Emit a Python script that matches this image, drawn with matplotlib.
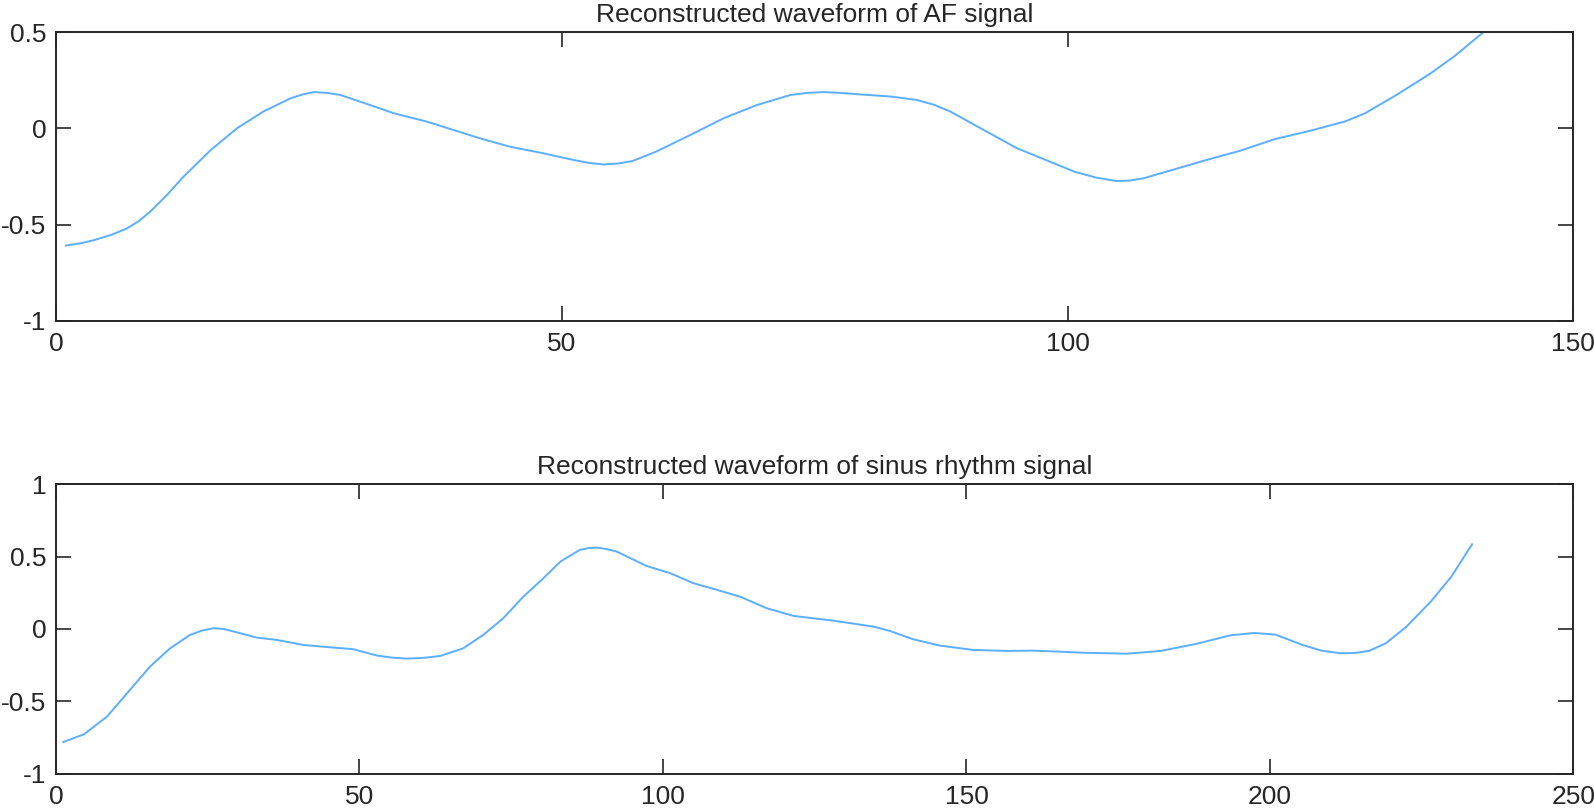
import matplotlib
matplotlib.use("Agg")
import matplotlib.pyplot as plt

# ---- data ----
af_x = [1, 2.4, 3.7, 5.4, 7, 8.2, 9.3, 11, 12.6, 15.3, 17.9, 20.5, 23.2, 24.4, 25.5,
        26.8, 28.1, 30.7, 33.4, 36.7, 39.3, 41.9, 44.9, 47.9, 51.2, 52.7, 54.1, 55.6,
        57, 59.3, 62.7, 66, 69.3, 72.6, 74.3, 75.9, 77.5, 79.2, 82.5, 85.1, 86.8,
        88.4, 91.4, 95, 97.3, 100.7, 102.8, 104.8, 106.1, 107.5, 110.9, 113.7,
        117.1, 120.5, 123.9, 127.4, 129.4, 132.5, 135.9, 138.3, 141]
af_y = [-0.609, -0.598, -0.582, -0.555, -0.521, -0.482, -0.434, -0.345, -0.252,
        -0.113, 0.0, 0.087, 0.156, 0.176, 0.188, 0.184, 0.173, 0.127, 0.078, 0.034,
        -0.009, -0.052, -0.096, -0.127, -0.165, -0.180, -0.188, -0.183, -0.170,
        -0.122, -0.035, 0.052, 0.121, 0.173, 0.184, 0.188, 0.184, 0.177, 0.165,
        0.147, 0.122, 0.087, 0.0, -0.104, -0.153, -0.226, -0.256, -0.274, -0.272,
        -0.26, -0.208, -0.165, -0.116, -0.056, -0.014, 0.035, 0.078, 0.173, 0.286,
        0.377, 0.495]

sr_x = [1.2, 4.6, 8.4, 12.2, 15.5, 18.8, 22.1, 24, 26, 27.6, 29.3, 33.1, 36.4, 40.8,
        45.2, 49, 52.9, 55.3, 57.8, 60.5, 63.3, 67.1, 70.4, 73.7, 77, 80.3, 83.1,
        86.3, 87.7, 89.1, 90.7, 92.4, 97.3, 101.2, 105, 108.9, 112.7, 117.1, 121.5,
        128.1, 134.7, 137.4, 141.2, 145.6, 151.1, 156.6, 160.9, 165.3, 168.9, 176.4,
        182, 187.8, 193.5, 197.4, 200.9, 205.4, 208.5, 211.7, 214, 216.3, 219.1,
        222.5, 226.5, 229.9, 233.3]
sr_y = [-0.781, -0.728, -0.606, -0.421, -0.26, -0.134, -0.041, -0.012, 0.005, 0.0,
        -0.018, -0.06, -0.076, -0.111, -0.127, -0.14, -0.184, -0.198, -0.205, -0.2,
        -0.187, -0.134, -0.041, 0.074, 0.223, 0.35, 0.465, 0.546, 0.558, 0.562,
        0.552, 0.534, 0.435, 0.385, 0.316, 0.27, 0.223, 0.143, 0.09, 0.057, 0.016,
        -0.014, -0.071, -0.115, -0.145, -0.152, -0.15, -0.157, -0.164, -0.171,
        -0.152, -0.104, -0.044, -0.028, -0.039, -0.111, -0.150, -0.168, -0.166,
        -0.152, -0.099, 0.016, 0.189, 0.362, 0.585]

titles = ["Reconstructed waveform of AF signal",
          "Reconstructed waveform of sinus rhythm signal"]
top_xticks = [0, 50, 100, 150]
top_yticks = [-1, -0.5, 0, 0.5]
top_yticklabels = ["-1", "-0.5", "0", "0.5"]
bot_xticks = [0, 50, 100, 150, 200, 250]
bot_yticks = [-1, -0.5, 0, 0.5, 1]
bot_yticklabels = ["-1", "-0.5", "0", "0.5", "1"]

# ---- style ----
plt.rcParams['font.family'] = ['Liberation Sans', 'DejaVu Sans']
ink = '#262626'
line_color = '#5CAEFF'
fs = 19

fig = plt.figure(figsize=(15.94, 8.11), dpi=100)
ax1 = fig.add_axes([0.0351, 0.6045, 0.9520, 0.3560])
ax2 = fig.add_axes([0.0351, 0.0460, 0.9520, 0.3570])


def style(ax, xlim, ylim, xt, yt, ytl, title):
    ax.set_xlim(*xlim)
    ax.set_ylim(*ylim)
    ax.set_xticks(xt)
    ax.set_xticklabels([str(v) for v in xt])
    ax.set_yticks(yt)
    ax.set_yticklabels(ytl)
    ax.tick_params(direction='in', length=11, width=1.2, colors=ink,
                   labelsize=fs, top=True, right=True, pad=7)
    ax.tick_params(axis='x', pad=8)
    for s in ax.spines.values():
        s.set_color(ink)
        s.set_linewidth(1.4)
    ax.set_title(title, fontsize=fs, color=ink, pad=7)


ax1.plot(af_x, af_y, color=line_color, lw=1.4, solid_joinstyle='round')
style(ax1, (0, 150), (-1, 0.5), top_xticks, top_yticks, top_yticklabels, titles[0])

ax2.plot(sr_x, sr_y, color=line_color, lw=1.4, solid_joinstyle='round')
style(ax2, (0, 250), (-1, 1), bot_xticks, bot_yticks, bot_yticklabels, titles[1])

fig.savefig("out.png", dpi=100)
